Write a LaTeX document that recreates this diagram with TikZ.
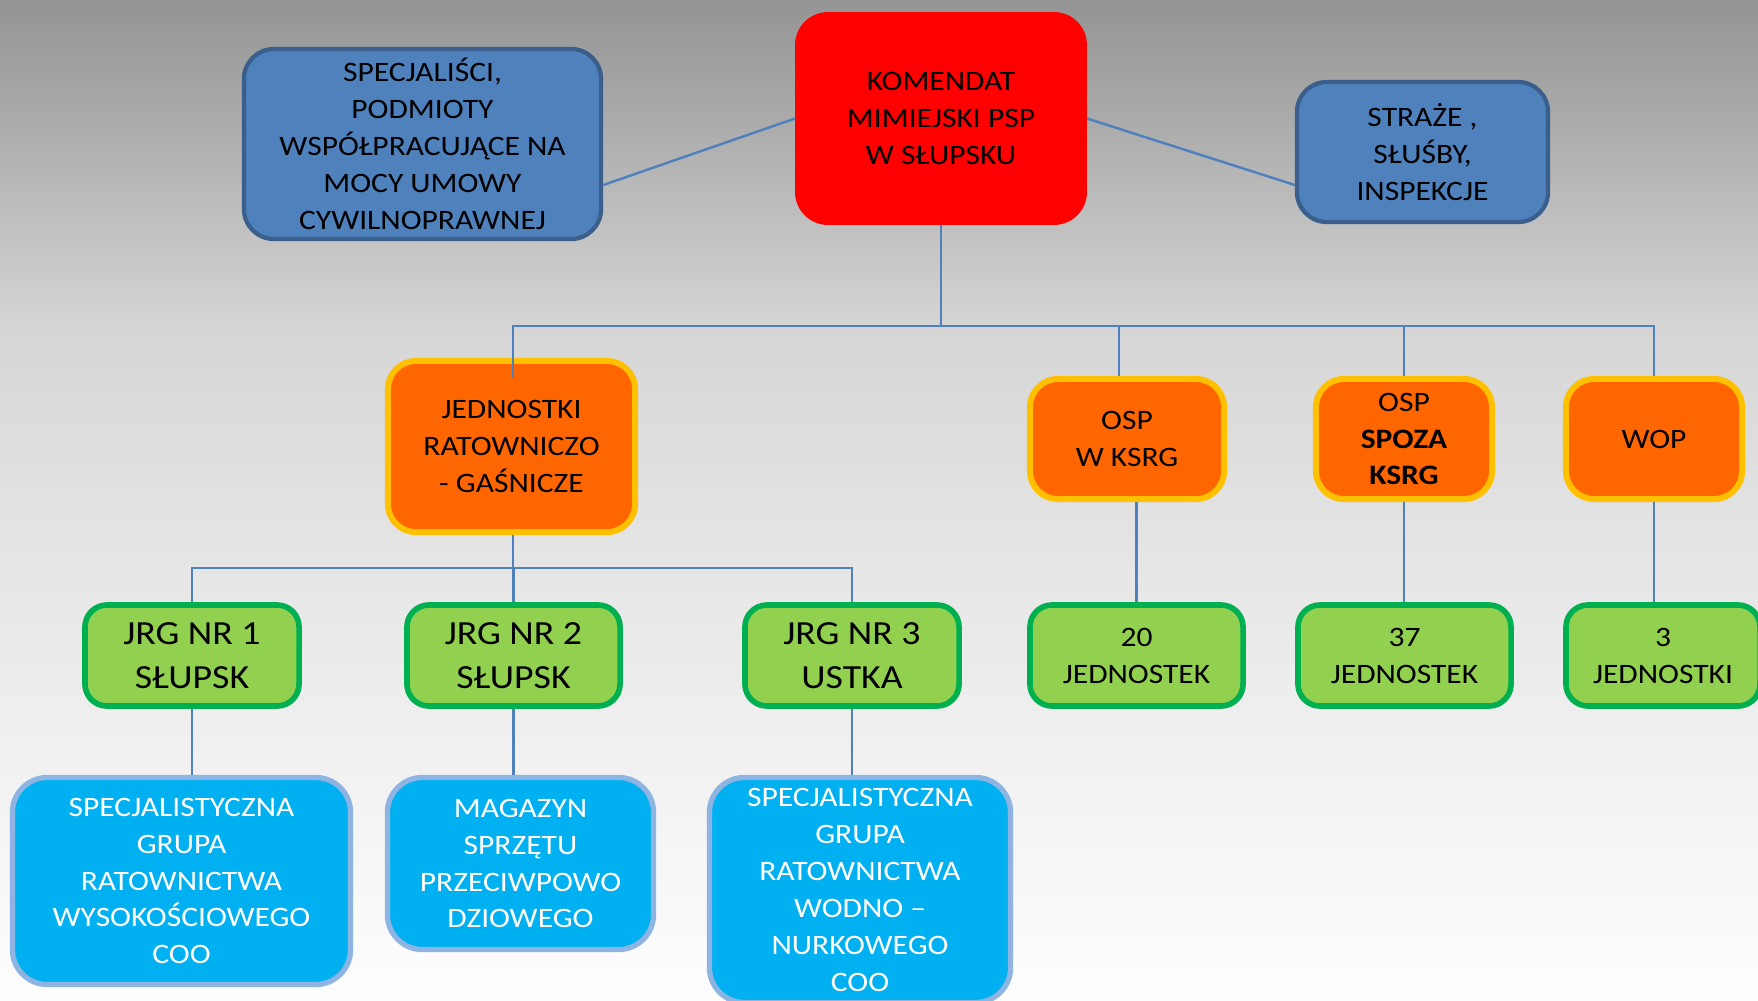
\documentclass[tikz,border=0pt]{standalone}
\usepackage{fontspec}
\setmainfont{Carlito}[FakeStretch=1.12]
\usetikzlibrary{calc}
\definecolor{kred}{HTML}{FF0000}
\definecolor{bfill}{HTML}{4F81BD}
\definecolor{bline}{HTML}{3A5F8C}
\definecolor{ofill}{HTML}{FF6600}
\definecolor{oline}{HTML}{FFC000}
\definecolor{gfill}{HTML}{92D050}
\definecolor{gline}{HTML}{00B050}
\definecolor{cfill}{HTML}{00B0F0}
\definecolor{cline}{HTML}{8EB4E3}
\definecolor{connc}{HTML}{4F81BD}
\definecolor{bgA}{HTML}{949494}
\definecolor{bgB}{HTML}{ABABAB}
\definecolor{bgC}{HTML}{D6D6D6}
\definecolor{bgD}{HTML}{E8E8E8}
\definecolor{bgE}{HTML}{F3F3F3}
\definecolor{bgF}{HTML}{FEFEFE}
\begin{document}
\begin{tikzpicture}[x=0.01cm,y=-0.01cm,
 box/.style={rounded corners=0.3cm, align=center, inner sep=0pt, font=\fontsize{8pt}{10.5pt}\selectfont},
 redbox/.style={box, fill=kred, draw=kred, line width=0.5pt, rounded corners=0.32cm},
 bluebox/.style={box, fill=bfill, draw=bline, line width=1.2pt},
 orbox/.style={box, fill=ofill, draw=oline, line width=1.7pt, rounded corners=0.28cm},
 grbox/.style={box, fill=gfill, draw=gline, line width=1.6pt, rounded corners=0.22cm},
 grbig/.style={grbox, font=\fontsize{9.6pt}{12.5pt}\selectfont},
 cybox/.style={box, fill=cfill, draw=cline, line width=1.5pt, text=white, rounded corners=0.35cm},
 connector/.style={draw=connc, line width=0.7pt}
]
\useasboundingbox (0,0) rectangle (1758,1000);
% background gradient
\shade[top color=bgA, bottom color=bgB] (0,0) rectangle (1758,121);
\shade[top color=bgB, bottom color=bgC] (0,120) rectangle (1758,331);
\shade[top color=bgC, bottom color=bgD] (0,330) rectangle (1758,601);
\shade[top color=bgD, bottom color=bgE] (0,600) rectangle (1758,801);
\shade[top color=bgE, bottom color=bgF] (0,800) rectangle (1758,1000);

% top row
\node[redbox, minimum width=2.90cm, minimum height=2.11cm] (kom) at (941,118.5)
  {KOMENDAT\\MIMIEJSKI PSP\\W SŁUPSKU};
\node[bluebox, minimum width=3.57cm, minimum height=1.90cm] (spec) at (422.5,144)
  {SPECJALIŚCI,\\PODMIOTY\\WSPÓŁPRACUJĄCE NA\\MOCY UMOWY\\CYWILNOPRAWNEJ};
\node[bluebox, minimum width=2.51cm, minimum height=1.40cm] (str) at (1422.5,152)
  {STRAŻE ,\\SŁUŚBY,\\INSPEKCJE};

% orange row
\node[orbox, minimum width=2.47cm, minimum height=1.71cm] (jrgs) at (511.5,446.5)
  {JEDNOSTKI\\RATOWNICZO\\- GAŚNICZE};
\node[orbox, minimum width=1.94cm, minimum height=1.20cm] (osp1) at (1127,439)
  {OSP\\W KSRG};
\node[orbox, minimum width=1.76cm, minimum height=1.20cm] (osp2) at (1404,439)
  {OSP\\\textbf{SPOZA}\\\textbf{KSRG}};
\node[orbox, minimum width=1.76cm, minimum height=1.20cm] (wop) at (1654,439)
  {WOP};

% green row
\node[grbig, minimum width=2.14cm, minimum height=1.01cm] (jrg1) at (192,655.5)
  {JRG NR 1\\SŁUPSK};
\node[grbig, minimum width=2.13cm, minimum height=1.01cm] (jrg2) at (513.5,655.5)
  {JRG NR 2\\SŁUPSK};
\node[grbig, minimum width=2.14cm, minimum height=1.01cm] (jrg3) at (852,655.5)
  {JRG NR 3\\USTKA};
\node[grbox, minimum width=2.13cm, minimum height=1.01cm] (j20) at (1136.5,655.5)
  {20\\JEDNOSTEK};
\node[grbox, minimum width=2.13cm, minimum height=1.01cm] (j37) at (1404.5,655.5)
  {37\\JEDNOSTEK};
\node[grbox, minimum width=1.94cm, minimum height=1.01cm] (j3) at (1663,655.5)
  {3\\JEDNOSTKI};

% cyan row
\node[cybox, minimum width=3.38cm, minimum height=2.07cm] (sg1) at (181.5,881)
  {SPECJALISTYCZNA\\GRUPA\\RATOWNICTWA\\WYSOKOŚCIOWEGO\\COO};
\node[cybox, minimum width=2.66cm, minimum height=1.72cm] (mag) at (520.5,863.5)
  {MAGAZYN\\SPRZĘTU\\PRZECIWPOWO\\DZIOWEGO};
\node[cybox, minimum width=3.01cm, minimum height=2.25cm] (sg3) at (860,890)
  {SPECJALISTYCZNA\\GRUPA\\RATOWNICTWA\\WODNO –\\NURKOWEGO\\COO};

% connectors
\coordinate (busA) at (0,326);
\coordinate (busB) at (0,568);
\draw[connector] ($(spec.east)+(0,41)$) -- (kom.west);
\draw[connector] (kom.east) -- ($(str.west)+(0,33)$);
\draw[connector] (kom.south) -- (kom.south |- busA);
\draw[connector] ($(jrgs.north)+(1.5,20)$) -- ($(jrgs.north |- busA)+(1.5,0)$) -- (wop.north |- busA) -- (wop.north);
\draw[connector] ($(osp1.north)+(-8,0)$) -- ($(osp1.north |- busA)+(-8,0)$);
\draw[connector] (osp2.north) -- (osp2.north |- busA);
\draw[connector] (osp1.south -| j20.north) -- (j20.north);
\draw[connector] (osp2.south) -- (osp2.south |- j37.north);
\draw[connector] (wop.south) -- (wop.south |- j3.north);
\draw[connector] ($(jrgs.south)+(1.5,0)$) -- ($(jrgs.south |- busB)+(1.5,0)$);
\draw[connector] (jrg1.north) -- (jrg1.north |- busB) -- (jrg3.north |- busB) -- (jrg3.north);
\draw[connector] (jrg2.north) -- (jrg2.north |- busB);
\draw[connector] (jrg1.south) -- (jrg1.south |- sg1.north);
\draw[connector] (jrg2.south) -- (jrg2.south |- mag.north);
\draw[connector] (jrg3.south) -- (jrg3.south |- sg3.north);
\end{tikzpicture}
\end{document}
